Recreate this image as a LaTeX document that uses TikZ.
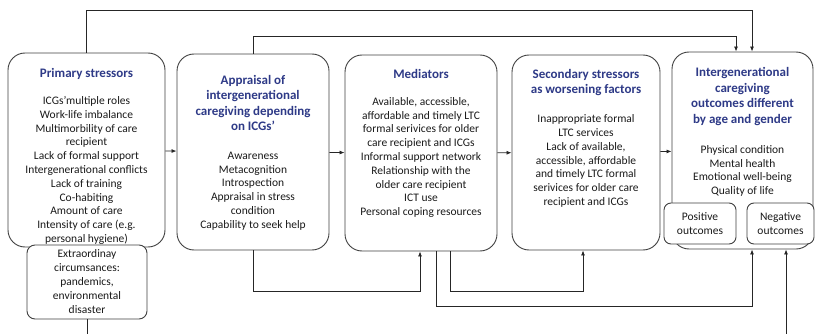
\documentclass[tikz,border=0pt]{standalone}
\usepackage{fontspec}
\setmainfont{Carlito}
\usetikzlibrary{arrows.meta}
\definecolor{ttl}{HTML}{2E3A87}
\definecolor{edge}{HTML}{404040}
\definecolor{txt}{HTML}{1A1A1A}
\tikzset{
  mainbox/.style={draw=edge, line width=0.9pt, rounded corners=17pt, fill=white, inner sep=0pt},
  subbox/.style={draw=edge, line width=0.9pt, rounded corners=8pt, fill=white, inner sep=0pt, align=center, text=txt, font=\fontsize{11.5}{14}\selectfont},
  ttlnode/.style={align=center, text=ttl, font=\fontsize{13}{15.5}\selectfont\bfseries, inner sep=0pt},
  bodynode/.style={align=center, text=txt, font=\fontsize{11.5}{13.8}\selectfont, inner sep=0pt},
  conn/.style={draw=black!85, line width=0.8pt},
  arr/.style={conn, -{Latex[length=5pt,width=4pt]}}
}
\begin{document}
\begin{tikzpicture}[x=1pt,y=-1pt]
\useasboundingbox (0,0) rectangle (816,334);
% main boxes
\node[mainbox, minimum width=157pt, minimum height=194pt] (b1) at (86.5,150) {};
\node[mainbox, minimum width=152pt, minimum height=196pt] (b2) at (253,152) {};
\node[mainbox, minimum width=152pt, minimum height=196pt] (b3) at (421,153) {};
\node[mainbox, minimum width=148pt, minimum height=195pt] (b4) at (586,152.5) {};
\node[mainbox, minimum width=141pt, minimum height=197pt] (b5) at (742.5,150.5) {};
% sub boxes
\node[subbox, minimum width=120pt, minimum height=74pt] (ext) at (87,282) {Extraordinay\\circumsances:\\pandemics,\\environmental\\disaster};
\node[subbox, rounded corners=7pt, minimum width=72pt, minimum height=41pt] (pos) at (700,223.5) {Positive\\outcomes};
\node[subbox, rounded corners=7pt, minimum width=67pt, minimum height=41pt] (neg) at (780.5,223.5) {Negative\\outcomes};
% titles
\node[ttlnode] (t1) at (86.5,74) {Primary stressors};
\node[ttlnode] (t2) at (253,103) {Appraisal of\\intergenerational\\caregiving depending\\on ICGs’};
\node[ttlnode] (t3) at (421,74) {Mediators};
\node[ttlnode] (t4) at (586,82.5) {Secondary stressors\\as worsening factors};
\node[ttlnode] (t5) at (742.5,96.5) {Intergenerational\\caregiving\\outcomes different\\by age and gender};
% bodies
\node[bodynode] (d1) at (86.5,170.5) {ICGs’multiple roles\\Work-life imbalance\\Multimorbility of care\\recipient\\Lack of formal support\\Intergenerational conflicts\\Lack of training\\Co-habiting\\Amount of care\\Intensity of care (e.g.\\personal hygiene)};
\node[bodynode] (d2) at (253,191) {Awareness\\Metacognition\\Introspection\\Appraisal in stress\\condition\\Capability to seek help};
\node[bodynode] (d3) at (421,157.5) {Available, accessible,\\affordable and timely LTC\\formal serivices for older\\care recipient and ICGs\\Informal support network\\Relationship with the\\older care recipient\\ICT use\\Personal coping resources};
\node[bodynode] (d4) at (586,161) {Inappropriate formal\\LTC services\\Lack of available,\\accessible, affordable\\and timely LTC formal\\serivices for older care\\recipient and ICGs};
\node[bodynode] (d5) at (742.5,171) {Physical condition\\Mental health\\Emotional well-being\\Quality of life};
% horizontal arrows
\draw[arr] (b1) -- (b2);
\draw[arr] (b2) -- (b3);
\draw[arr] (b3) -- (b4);
\draw[arr] (b4) -- (b5);
% top connectors
\draw[arr] (b1.north) -- ++(0,-42) -| ([xshift=9.5pt]b5.north);
\draw[arr] (b2.north) -- ++(0,-17) -| ([xshift=-6.5pt]b5.north);
% bottom connectors
\draw[arr] (b2.south) -- ++(0,41) -| ([xshift=-1pt]b3.south);
\draw[arr] ([xshift=15pt]b3.south) -- ++(0,55) -| ([xshift=9.5pt]b5.south);
\draw[arr] ([xshift=29pt]b3.south) -- ++(0,40) -| ([xshift=-3pt]b4.south);
\coordinate (extend) at (87,334);
\draw[conn] (ext.south) -- (extend);
\coordinate (negstart) at (786,334);
\draw[arr] (negstart) -- (negstart |- b5.south);
\end{tikzpicture}
\end{document}
